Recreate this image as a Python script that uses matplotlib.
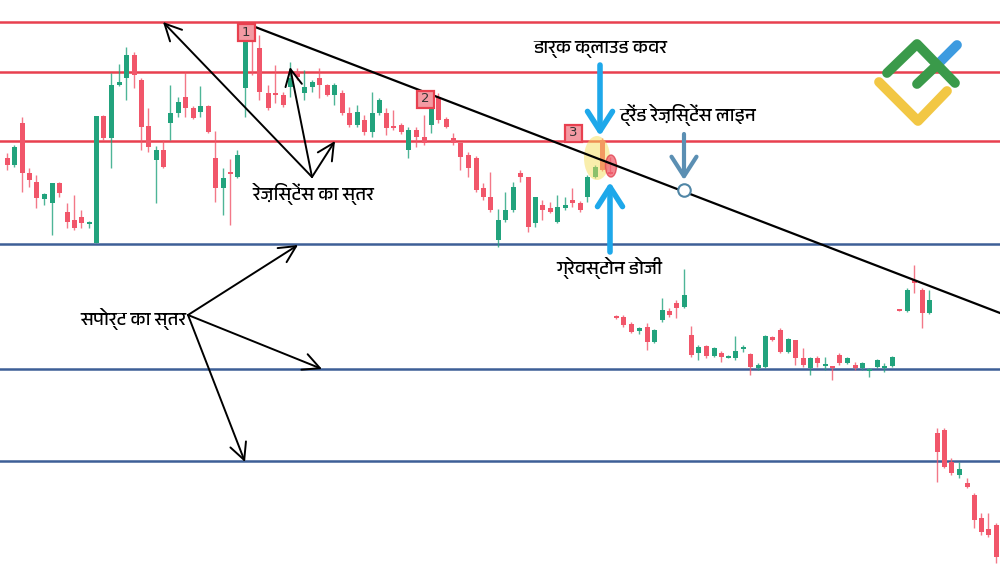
import matplotlib
matplotlib.use("Agg")
import matplotlib.pyplot as plt
from matplotlib import font_manager
from matplotlib.patches import Ellipse, Rectangle

# ---------------- data (chart units; y grows downward like the picture) -------------
candle_x = [7, 14, 22, 29, 36, 44, 52, 59, 67, 74, 81, 89, 96, 103, 111, 119, 126, 134, 141, 148,
            156, 163, 170, 178, 185, 193, 200, 208, 215, 223, 230, 237, 245, 252, 259, 268, 275, 283, 290, 297,
            304, 312, 319, 327, 334, 342, 349, 357, 364, 372, 379, 386, 393, 401, 408, 416, 424, 431, 438, 446,
            453, 460, 468, 476, 483, 490, 498, 505, 513, 520, 528, 535, 542, 550, 557, 565, 572, 580, 587, 595,
            602, 610, 616, 623, 631, 639, 647, 654, 662, 669, 676, 684, 691, 698, 706, 714, 721, 728, 735, 743,
            750, 758, 765, 772, 780, 788, 795, 803, 810, 817, 825, 832, 839, 847, 855, 862, 869, 877, 884, 892,
            899, 907, 914, 922, 929, 937, 944, 951, 959, 967, 974, 981, 988, 996]
opens = [158, 165, 123, 173, 182, 199, 203, 183, 212, 220, 217, 223, 243, 116, 138, 85, 78, 55, 80, 126,
         160, 150, 123, 113, 97, 108, 112, 106, 158, 188, 172, 177, 88, 33, 48, 93, 93, 95, 87, 72,
         93, 87, 78, 85, 95, 93, 113, 125, 120, 132, 113, 113, 126, 125, 150, 130, 137, 125, 97, 119,
         138, 143, 155, 158, 188, 197, 240, 220, 210, 173, 177, 223, 205, 208, 222, 208, 200, 203, 197, 177,
         140, 172, 316, 317, 324, 331, 327, 342, 320, 311, 303, 307, 335, 353, 346, 356, 353, 357, 358, 349,
         354, 368, 367, 337, 330, 352, 340, 358, 368, 358, 366, 366, 355, 363, 365, 368, 371, 367, 368, 366,
         309, 311, 280, 290, 313, 433, 430, 462, 475, 483, 495, 518, 529, 525]
highs = [153, 145, 117, 168, 175, 193, 183, 182, 203, 195, 210, 221, 116, 115, 73, 64, 47, 52, 78, 108,
         146, 140, 85, 97, 72, 106, 86, 105, 131, 168, 159, 150, 32, 31, 35, 85, 65, 92, 62, 68,
         70, 80, 68, 84, 83, 90, 107, 105, 115, 92, 98, 108, 110, 123, 127, 127, 115, 93, 93, 117,
         133, 143, 152, 156, 183, 172, 209, 192, 182, 170, 177, 197, 200, 202, 195, 197, 188, 201, 175, 165,
         138, 157, 315, 315, 322, 327, 323, 329, 298, 308, 300, 269, 326, 345, 345, 347, 351, 355, 336, 345,
         353, 363, 335, 336, 328, 338, 340, 348, 357, 356, 357, 366, 353, 357, 362, 362, 368, 359, 363, 356,
         309, 288, 265, 288, 290, 428, 428, 458, 462, 478, 493, 513, 513, 523]
lows = [170, 167, 192, 187, 208, 205, 235, 197, 228, 230, 228, 228, 243, 140, 168, 86, 100, 88, 150, 152,
        203, 168, 140, 117, 117, 119, 117, 133, 202, 215, 225, 178, 117, 75, 100, 110, 103, 107, 97, 80,
        100, 92, 98, 96, 105, 115, 127, 127, 135, 137, 115, 135, 130, 134, 158, 147, 145, 133, 123, 128,
        145, 170, 177, 192, 200, 212, 247, 222, 212, 182, 232, 227, 220, 213, 223, 210, 207, 212, 202, 178,
        171, 174, 319, 327, 333, 334, 350, 343, 322, 317, 318, 308, 357, 360, 358, 357, 362, 358, 360, 352,
        375, 370, 368, 341, 353, 353, 365, 367, 375, 367, 370, 380, 365, 364, 370, 370, 377, 368, 372, 367,
        311, 312, 293, 328, 314, 482, 468, 475, 478, 488, 528, 535, 537, 563]
closes = [165, 147, 173, 180, 198, 194, 183, 193, 222, 228, 223, 222, 116, 138, 85, 82, 55, 75, 127, 147,
          150, 167, 113, 102, 108, 118, 106, 132, 188, 178, 174, 155, 33, 40, 92, 108, 95, 105, 78, 77,
          87, 82, 85, 95, 85, 113, 125, 112, 132, 113, 100, 128, 128, 132, 130, 137, 143, 100, 120, 127,
          143, 157, 168, 190, 197, 210, 220, 210, 187, 177, 227, 197, 210, 212, 207, 205, 203, 210, 177, 167,
          170, 174, 318, 325, 332, 328, 342, 330, 310, 315, 308, 295, 355, 347, 356, 348, 357, 356, 351, 347,
          367, 365, 336, 340, 352, 339, 358, 365, 358, 363, 364, 368, 363, 358, 368, 363, 369, 360, 366, 357,
          311, 290, 283, 313, 300, 452, 467, 473, 469, 487, 520, 532, 535, 557]

resistance_levels = [22, 72, 141]
support_levels = [244, 369, 461]
trend_line_x = [250, 1000]
trend_line_y = [25, 313]
trend_touch = (684, 190)

pattern_labels = ["1", "2", "3"]
pattern_pos = [(246, 32), (425, 99), (573, 133)]

txt_resistance = "रेज़िस्टेंस का स्तर"
txt_support = "सपोर्ट का स्तर"
txt_dark_cloud = "डार्क क्लाउड कवर"
txt_trend = "ट्रेंड रेज़िस्टेंस लाइन"
txt_doji = "ग्रेवस्टोन डोजी"

# ---------------- fonts -------------
names = sorted({f.name for f in font_manager.fontManager.ttflist})
deva = [n for n in names if "Devanagari" in n]
for n in ["Lohit Devanagari", "Mukta", "Hind", "Kalimati", "Mangal", "Nirmala UI", "Gargi",
          "Sarai", "FreeSans", "Samanata"]:
    if n in names and n not in deva:
        deva.append(n)
family = deva[:2] + ["Noto Sans", "DejaVu Sans"]
plt.rcParams["font.family"] = family

GREEN = "#22a37d"
RED = "#f1566a"
RES_COLOR = "#e8404f"
SUP_COLOR = "#3d5f97"
ARROW_BLUE = "#1ea8ea"

fig = plt.figure(figsize=(10, 5.77), dpi=100)
ax = fig.add_axes([0, 0, 1, 1])
ax.set_xlim(0, 1000)
ax.set_ylim(577, 0)
ax.axis("off")

# horizontal levels
for y in resistance_levels:
    ax.axhline(y, color=RES_COLOR, lw=1.8, zorder=1)
for y in support_levels:
    ax.axhline(y, color=SUP_COLOR, lw=1.8, zorder=1)

# candles
for x, o, h, l, c in zip(candle_x, opens, highs, lows, closes):
    col = RED if c > o else GREEN
    ax.vlines(x, h, l, color=col, lw=1.0, alpha=0.8, zorder=3)
    top, bot = min(o, c), max(o, c)
    ax.bar(x, max(bot - top, 1.5), bottom=top, width=5, color=col, zorder=4, linewidth=0)

# highlights
ax.add_patch(Ellipse((597, 158), 26, 44, facecolor="#f5df5a", alpha=0.5, edgecolor="none", zorder=5))
ax.add_patch(Ellipse((611, 166), 11, 22, facecolor="#f0606e", alpha=0.75, edgecolor="#e03a4a", lw=1, zorder=5))

# trend line
ax.plot(trend_line_x, trend_line_y, color="black", lw=1.6, zorder=6)
ax.plot([trend_touch[0]], [trend_touch[1]], "o", ms=9, mfc="white", mec="#4f86a6", mew=1.5, zorder=7)

# numbered boxes
for lab, (px, py) in zip(pattern_labels, pattern_pos):
    ax.add_patch(Rectangle((px - 8.5, py - 8.5), 17, 17, facecolor="#f39aa3", edgecolor=RES_COLOR,
                           lw=1.6, zorder=8))
    ax.text(px, py, lab, ha="center", va="center", fontsize=9.5, color="#333333", zorder=9,
            family="DejaVu Sans")

# black annotation arrows
blk = dict(arrowstyle="->,head_length=0.6,head_width=0.3", lw=1.4, color="black", mutation_scale=20,
           shrinkA=0, shrinkB=0)
for tip in [(163, 22), (290, 67), (335, 141)]:
    ax.annotate("", xy=tip, xytext=(312, 177), arrowprops=blk, zorder=10)
for tip in [(298, 245), (322, 369), (245, 462)]:
    ax.annotate("", xy=tip, xytext=(188, 315), arrowprops=blk, zorder=10)

# blue arrows
blu = dict(arrowstyle="->,head_length=0.7,head_width=0.45", lw=4, color=ARROW_BLUE, mutation_scale=20,
           shrinkA=0, shrinkB=0)
ax.annotate("", xy=(600, 136), xytext=(600, 65), arrowprops=blu, zorder=10)
ax.annotate("", xy=(610, 182), xytext=(610, 252), arrowprops=blu, zorder=10)
blu2 = dict(blu, color="#5b8fb3", lw=3)
ax.annotate("", xy=(684, 180), xytext=(684, 134), arrowprops=blu2, zorder=10)

# texts
fs = 13.5
ax.text(314, 194, txt_resistance, ha="center", va="center", fontsize=fs, color="black", zorder=11)
ax.text(133, 319, txt_support, ha="center", va="center", fontsize=fs, color="black", zorder=11)
ax.text(600, 49, txt_dark_cloud, ha="center", va="center", fontsize=fs, color="black", zorder=11)
ax.text(688, 115, txt_trend, ha="center", va="center", fontsize=fs, color="black", zorder=11)
ax.text(609, 268, txt_doji, ha="center", va="center", fontsize=fs, color="black", zorder=11)

# logo
lw_logo = 7
ax.plot([879, 918, 947], [82, 121, 91], color="#f2c744", lw=lw_logo, solid_capstyle="round",
        solid_joinstyle="round", zorder=12)
ax.plot([936, 957], [66, 45], color="#3d9be0", lw=lw_logo, solid_capstyle="round", zorder=12)
ax.plot([887, 917, 955], [73, 44, 83], color="#3a9a4a", lw=lw_logo, solid_capstyle="round",
        solid_joinstyle="round", zorder=13)
ax.plot([917, 937], [84, 65], color="#3a9a4a", lw=lw_logo, solid_capstyle="round", zorder=13)

fig.savefig("out.png", dpi=100)
